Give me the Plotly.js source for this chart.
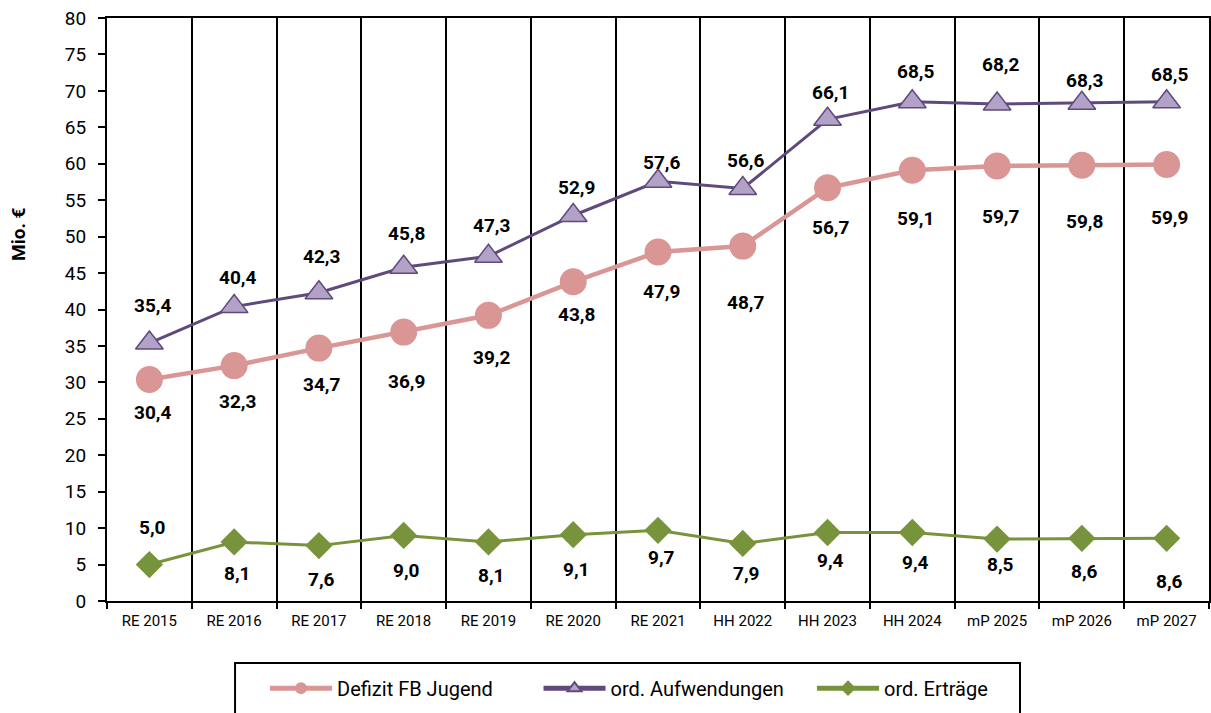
<!DOCTYPE html>
<html>
<head>
<meta charset="utf-8">
<script src="https://cdn.plot.ly/plotly-3.0.1.min.js"></script>
<style>html,body{margin:0;padding:0;background:#fff;}#chart{width:1211px;height:713px;}</style>
</head>
<body>
<div id="chart"></div>
<script>
// ---- data ----
const categories = ["RE 2015","RE 2016","RE 2017","RE 2018","RE 2019","RE 2020","RE 2021","HH 2022","HH 2023","HH 2024","mP 2025","mP 2026","mP 2027"];
const defizit = [30.4, 32.3, 34.7, 36.9, 39.2, 43.8, 47.9, 48.7, 56.7, 59.1, 59.7, 59.8, 59.9];
const aufwendungen = [35.4, 40.4, 42.3, 45.8, 47.3, 52.9, 57.6, 56.6, 66.1, 68.5, 68.2, 68.3, 68.5];
const ertraege = [5.0, 8.1, 7.6, 9.0, 8.1, 9.1, 9.7, 7.9, 9.4, 9.4, 8.5, 8.6, 8.6];
const seriesNames = ["Defizit FB Jugend", "ord. Aufwendungen", "ord. Erträge"];
const yTitle = "Mio. €";

// ---- label placement (pixel offsets below the point; negative = above) ----
const defizitLabelOffset = [33, 36, 36, 49, 42, 33, 40, 56, 40, 48, 51, 56, 53];
const aufwLabelOffset = [-38, -29, -36, -34, -31, -28, -19, -28, -27, -30, -39, -23, -27];
const ertrLabelOffset = [-37, 32, 34, 35, 34, 35, 27, 30, 28, 30, 25, 33, 43];

const fmt = v => v.toFixed(1).replace('.', ',');

const traces = [
  {
    x: categories, y: ertraege, name: seriesNames[2], type: 'scatter', mode: 'lines+markers',
    line: {color: '#77933C', width: 3},
    marker: {symbol: 'diamond', size: 21, color: '#77933C'}
  },
  {
    x: categories, y: aufwendungen, name: seriesNames[1], type: 'scatter', mode: 'lines+markers',
    line: {color: '#604A7B', width: 3},
    marker: {symbol: 'triangle-up', size: 24, color: '#B3A2C7', line: {color: '#604A7B', width: 1.5}}
  },
  {
    x: categories, y: defizit, name: seriesNames[0], type: 'scatter', mode: 'lines+markers',
    line: {color: '#DA9694', width: 4.5},
    marker: {symbol: 'circle', size: 27, color: '#DA9694'}
  }
];
// legend order: Defizit, Aufwendungen, Erträge
traces[2].legendrank = 1; traces[1].legendrank = 2; traces[0].legendrank = 3;

const labelFont = {family: 'Roboto, sans-serif', size: 19, color: '#000'};
const annotations = [];
function addLabels(vals, offs) {
  vals.forEach((v, i) => {
    annotations.push({
      x: categories[i], y: v, xref: 'x', yref: 'y',
      text: '<b>' + fmt(v) + '</b>', showarrow: false,
      yshift: -offs[i], xshift: 3, font: labelFont
    });
  });
}
addLabels(defizit, defizitLabelOffset);
addLabels(aufwendungen, aufwLabelOffset);
addLabels(ertraege, ertrLabelOffset);

annotations.push({
  xref: 'paper', yref: 'paper', x: 0, y: 0.6295, xshift: -89,
  xanchor: 'center', yanchor: 'middle',
  text: '<b>' + yTitle + '</b>', textangle: -90, showarrow: false,
  font: {family: 'Roboto, sans-serif', size: 19, color: '#000'}
});

const layout = {
  width: 1211, height: 713,
  margin: {l: 107, r: 2, t: 18, b: 112, autoexpand: false},
  paper_bgcolor: '#fff', plot_bgcolor: '#fff',
  font: {family: 'Roboto, sans-serif', color: '#000'},
  showlegend: true,
  legend: {
    orientation: 'h', x: 0.1434, xanchor: 'left', y: -0.116, yanchor: 'top',
    bgcolor: 'rgba(0,0,0,0)', borderwidth: 0,
    font: {size: 20, color: '#000'},
    itemwidth: 62, entrywidth: 196.5, entrywidthmode: 'pixels',
    traceorder: 'normal', itemsizing: 'constant'
  },
  xaxis: {
    type: 'category', tickson: 'boundaries', range: [-0.5, 12.5], autorange: false,
    showgrid: true, gridcolor: '#000', gridwidth: 2,
    ticks: 'outside', ticklen: 6, tickwidth: 2, tickcolor: '#000',
    showline: true, linecolor: '#000', linewidth: 2, mirror: true,
    tickfont: {size: 15, color: '#000'}, ticklabelstandoff: 5,
    fixedrange: true
  },
  yaxis: {
    range: [0, 80], autorange: false, dtick: 5, showgrid: false, zeroline: false,
    ticks: 'outside', ticklen: 7, tickwidth: 2, tickcolor: '#000',
    showline: true, linecolor: '#000', linewidth: 2, mirror: true,
    tickfont: {size: 19, color: '#000'}, ticklabelstandoff: 8,
    fixedrange: true
  },
  shapes: [{
    type: 'rect', xref: 'paper', yref: 'paper',
    x0: 0.1162, x1: 0.8285, y0: -0.1063, y1: -0.35,
    line: {color: '#000', width: 2}, fillcolor: 'rgba(0,0,0,0)'
  }],
  annotations: annotations
};

Plotly.newPlot('chart', traces, layout, {displayModeBar: false, staticPlot: true});
</script>
</body>
</html>
